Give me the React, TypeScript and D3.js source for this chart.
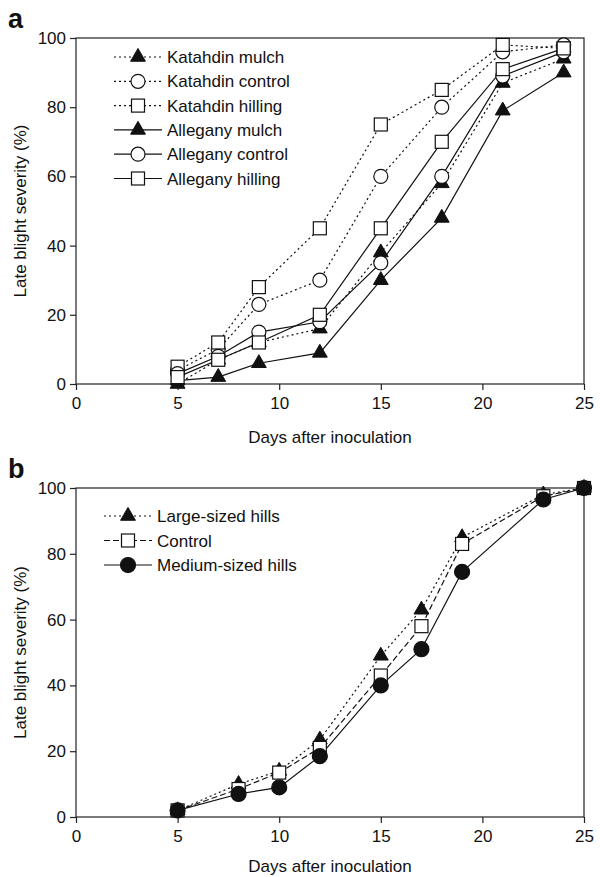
import React, { useEffect, useRef } from 'react';
import * as d3 from 'd3';

// panel a: days after inoculation and severity (%)
const daysA = [5, 7, 9, 12, 15, 18, 21, 24];
const katahdinMulch = [0, 7, 12, 16, 38, 58, 87, 94];
const katahdinControl = [4, 10, 23, 30, 60, 80, 96, 98];
const katahdinHilling = [5, 12, 28, 45, 75, 85, 98, 97];
const alleganyMulch = [1, 2, 6, 9, 30, 48, 79, 90];
const alleganyControl = [3, 8, 15, 18, 35, 60, 89, 96];
const alleganyHilling = [2, 7, 12, 20, 45, 70, 91, 97];

// panel b
const daysB = [5, 8, 10, 12, 15, 17, 19, 23, 25];
const largeHills = [2, 10, 14, 23.5, 49, 63, 85, 98, 100];
const controlHills = [2, 8.5, 13.5, 21, 43, 58, 83, 97.5, 100];
const mediumHills = [2, 7, 9, 18.5, 40, 51, 74.5, 96.5, 100];

const xTicks = [0, 5, 10, 15, 20, 25];
const yTicks = [0, 20, 40, 60, 80, 100];

const FONT = '"Liberation Sans", Arial, Helvetica, sans-serif';
const FS = 17;

type Series = { name: string; days: number[]; values: number[]; dash: string | null; symbol: string; filled: boolean };

const seriesA: Series[] = [
  { name: 'Katahdin mulch', days: daysA, values: katahdinMulch, dash: '2,3', symbol: 'triangle', filled: true },
  { name: 'Katahdin control', days: daysA, values: katahdinControl, dash: '2,3', symbol: 'circle', filled: false },
  { name: 'Katahdin hilling', days: daysA, values: katahdinHilling, dash: '2,3', symbol: 'square', filled: false },
  { name: 'Allegany mulch', days: daysA, values: alleganyMulch, dash: null, symbol: 'triangle', filled: true },
  { name: 'Allegany control', days: daysA, values: alleganyControl, dash: null, symbol: 'circle', filled: false },
  { name: 'Allegany hilling', days: daysA, values: alleganyHilling, dash: null, symbol: 'square', filled: false },
];

const seriesB: Series[] = [
  { name: 'Large-sized hills', days: daysB, values: largeHills, dash: '2,3', symbol: 'triangle', filled: true },
  { name: 'Control', days: daysB, values: controlHills, dash: '6,3', symbol: 'square', filled: false },
  { name: 'Medium-sized hills', days: daysB, values: mediumHills, dash: null, symbol: 'circle', filled: true },
];

const drawMarker = (g: any, s: Series, cx: number, cy: number) => {
  const fill = s.filled ? '#111' : '#fff';
  if (s.symbol === 'circle') {
    g.append('circle').attr('cx', cx).attr('cy', cy).attr('r', s.filled ? 7.5 : 7)
      .attr('fill', fill).attr('stroke', '#111').attr('stroke-width', 1.2);
  } else if (s.symbol === 'square') {
    g.append('rect').attr('x', cx - 6.5).attr('y', cy - 6.5).attr('width', 13).attr('height', 13)
      .attr('fill', fill).attr('stroke', '#111').attr('stroke-width', 1.2);
  } else {
    g.append('path').attr('d', d3.symbol(d3.symbolTriangle, 95)())
      .attr('transform', `translate(${cx},${cy})`)
      .attr('fill', fill).attr('stroke', '#111').attr('stroke-width', 1);
  }
};

const Panel = ({ series, top, bottom, letter, legendY, legendStep, legendX, titleGap }:
  { series: Series[]; top: number; bottom: number; letter: string; legendY: number; legendStep: number; legendX: number; titleGap: number }) => {
  const ref = useRef<SVGGElement>(null);
  const left = 76, right = 584;

  useEffect(() => {
    const g = d3.select(ref.current);
    g.selectAll('*').remove();

    const x = d3.scaleLinear().domain([0, 25]).range([left, right]);
    const y = d3.scaleLinear().domain([0, 100]).range([bottom, top]);

    // frame
    g.append('rect').attr('x', left).attr('y', top).attr('width', right - left).attr('height', bottom - top)
      .attr('fill', 'none').attr('stroke', '#222').attr('stroke-width', 1.2);

    const xAxis = g.append('g').attr('transform', `translate(0,${bottom})`)
      .call(d3.axisBottom(x).tickValues(xTicks).tickSize(6).tickSizeOuter(0).tickPadding(7));
    const yAxis = g.append('g').attr('transform', `translate(${left},0)`)
      .call(d3.axisLeft(y).tickValues(yTicks).tickSize(6).tickSizeOuter(0).tickPadding(4));
    [xAxis, yAxis].forEach(a => {
      a.select('.domain').remove();
      a.selectAll('line').attr('stroke', '#222').attr('stroke-width', 1.2);
      a.selectAll('text').attr('font-family', FONT).attr('font-size', FS).attr('fill', '#111');
    });

    // lines
    const line = d3.line<number>();
    series.forEach(s => {
      g.append('path')
        .attr('d', line(s.values.map((v, i) => [x(s.days[i]), y(v)]) as any))
        .attr('fill', 'none').attr('stroke', '#111').attr('stroke-width', 1.2)
        .attr('stroke-dasharray', s.dash);
    });
    series.forEach(s => {
      s.values.forEach((v, i) => drawMarker(g, s, x(s.days[i]), y(v)));
    });

    // legend
    series.forEach((s, i) => {
      const ly = legendY + i * legendStep;
      g.append('line').attr('x1', legendX).attr('x2', legendX + 48).attr('y1', ly).attr('y2', ly)
        .attr('stroke', '#111').attr('stroke-width', 1.2).attr('stroke-dasharray', s.dash);
      drawMarker(g, s, legendX + 24, ly);
      g.append('text').attr('x', legendX + 53).attr('y', ly + 6)
        .attr('font-family', FONT).attr('font-size', FS).attr('fill', '#111').text(s.name);
    });

    // titles
    g.append('text').attr('x', (left + right) / 2).attr('y', bottom + titleGap).attr('text-anchor', 'middle')
      .attr('font-family', FONT).attr('font-size', FS).attr('fill', '#111').text('Days after inoculation');
    g.append('text').attr('transform', `translate(26,${(top + bottom) / 2}) rotate(-90)`)
      .attr('text-anchor', 'middle')
      .attr('font-family', FONT).attr('font-size', FS).attr('fill', '#111').text('Late blight severity (%)');
    g.append('text').attr('x', 8).attr('y', top - 10)
      .attr('font-family', FONT).attr('font-size', 27).attr('font-weight', 'bold').attr('fill', '#111').text(letter);
  }, [series, top, bottom]);

  return <g ref={ref} />;
};

const App = () => (
  <svg width={600} height={877} style={{ position: 'absolute', left: 0, top: 0, background: '#fff' }}>
    <Panel series={seriesA} top={38} bottom={384} letter="a" legendY={57} legendStep={24.3} legendX={114} titleGap={59} />
    <Panel series={seriesB} top={488} bottom={817} letter="b" legendY={516} legendStep={24.5} legendX={104} titleGap={55} />
  </svg>
);

export default App;
